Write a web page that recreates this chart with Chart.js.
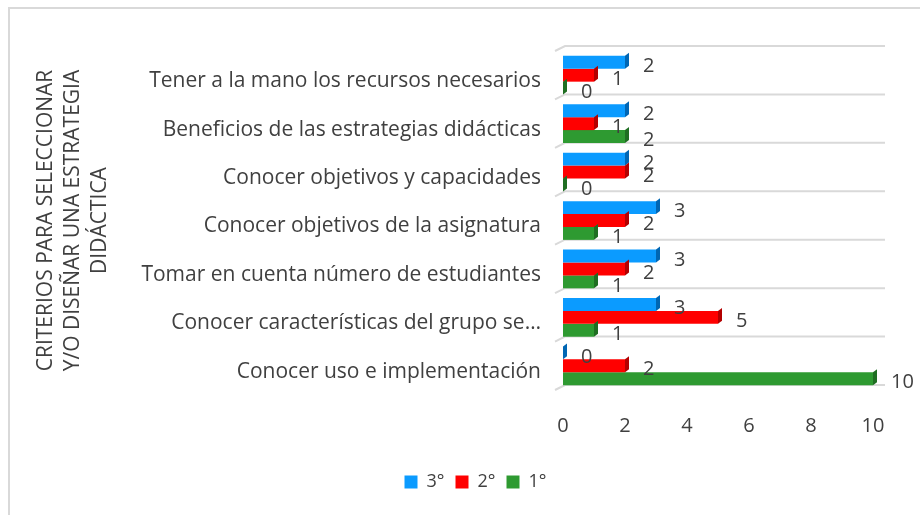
<!DOCTYPE html>
<html>
<head>
<meta charset="utf-8">
<script src="https://cdn.jsdelivr.net/npm/chart.js@4"></script>
<style>
  body { margin: 0; background: #fff; }
  #frame { position: absolute; left: 8px; top: 7px; width: 920px; height: 515px;
           border-left: 2px solid #d9d9d9; border-top: 2px solid #d9d9d9; }
  #wrap { position: absolute; left: 0; top: 0; width: 920px; height: 515px; }
</style>
</head>
<body>
<div id="frame"></div>
<div id="wrap"><canvas id="myChart"></canvas></div>
<script>
// data
const categories = [
  "Tener a la mano los recursos necesarios",
  "Beneficios de las estrategias didácticas",
  "Conocer objetivos y capacidades",
  "Conocer objetivos de la asignatura",
  "Tomar en cuenta número de estudiantes",
  "Conocer características del grupo se…",
  "Conocer uso e implementación",
];
const tercero = [2, 2, 2, 3, 3, 3, 0];
const segundo = [1, 1, 2, 2, 2, 5, 2];
const primero = [0, 2, 0, 1, 1, 1, 10];
const xTicks = [0, 2, 4, 6, 8, 10];

const textColor = "#404040";
const font = "'Open Sans', sans-serif";

// floor lines between categories, drawn a bit higher than the bars (3d look)
const floorLines = {
  id: "floorLines",
  beforeDatasetsDraw(chart) {
    const ctx = chart.ctx;
    const y = chart.scales.y;
    const left = chart.chartArea.left;
    const right = chart.chartArea.right + 12;
    ctx.save();
    ctx.strokeStyle = "#d9d9d9";
    ctx.lineWidth = 2;
    for (let i = 0; i <= categories.length; i++) {
      const py = y.getPixelForValue(i - 0.5) - 5;
      ctx.beginPath();
      ctx.moveTo(left - 8, py + 5);
      ctx.lineTo(left + 2, py);
      ctx.lineTo(right, py);
      ctx.stroke();
    }
    ctx.restore();
  },
};

// darker side face for the 3d look
const sideColors = ["#0066b3", "#b30000", "#1f6e22"];
const bar3d = {
  id: "bar3d",
  afterDatasetsDraw(chart) {
    const ctx = chart.ctx;
    ctx.save();
    chart.data.datasets.forEach((ds, i) => {
      chart.getDatasetMeta(i).data.forEach((el) => {
        const top = el.y - el.height / 2;
        const bottom = el.y + el.height / 2;
        ctx.fillStyle = sideColors[i];
        ctx.beginPath();
        ctx.moveTo(el.x, top);
        ctx.lineTo(el.x + 4, top - 3);
        ctx.lineTo(el.x + 4, bottom - 3);
        ctx.lineTo(el.x, bottom);
        ctx.closePath();
        ctx.fill();
      });
    });
    ctx.restore();
  },
};

// value labels next to the bars
const valueLabels = {
  id: "valueLabels",
  afterDatasetsDraw(chart) {
    const ctx = chart.ctx;
    ctx.save();
    ctx.font = "20px " + font;
    ctx.fillStyle = textColor;
    ctx.textAlign = "left";
    ctx.textBaseline = "middle";
    chart.data.datasets.forEach((ds, i) => {
      chart.getDatasetMeta(i).data.forEach((el, j) => {
        ctx.fillText(ds.data[j], el.x + 18, el.y + 4);
      });
    });
    ctx.restore();
  },
};

// legend sits a little right of the canvas centre in the original
const legendShift = {
  id: "legendShift",
  afterLayout(chart) {
    chart.legend.left += 25;
    chart.legend.right += 25;
  },
};

const data = {
  labels: categories,
  datasets: [
    { label: "3°", data: tercero, backgroundColor: "#0b9bff" },
    { label: "2°", data: segundo, backgroundColor: "#ff0000" },
    { label: "1°", data: primero, backgroundColor: "#2e9a31" },
  ],
};

const config = {
  type: "bar",
  data: data,
  options: {
    indexAxis: "y",
    responsive: true,
    maintainAspectRatio: false,
    animation: false,
    categoryPercentage: 0.8,
    barPercentage: 1,
    layout: { padding: { left: 28, right: 47, top: 51, bottom: 14 } },
    scales: {
      x: {
        min: 0,
        max: 10,
        afterBuildTicks: (s) => { s.ticks = xTicks.map((v) => ({ value: v })); },
        grid: { display: false, drawTicks: false },
        border: { display: false },
        ticks: { color: textColor, font: { family: font, size: 20 }, padding: 24 },
      },
      y: {
        afterFit: (s) => { s.width = 535; },
        grid: { display: false, drawTicks: false },
        border: { display: false },
        ticks: { color: textColor, font: { family: font, size: 21 }, padding: 22, labelOffset: 6 },
        title: {
          display: true,
          text: ["CRITERIOS PARA SELECCIONAR", "Y/O DISEÑAR UNA ESTRATEGIA", "DIDÁCTICA"],
          color: textColor,
          font: { family: font, size: 21, lineHeight: 1.3 },
          padding: { top: 4, bottom: 4 },
        },
      },
    },
    plugins: {
      legend: {
        position: "bottom",
        labels: {
          color: textColor,
          font: { family: font, size: 18 },
          boxWidth: 13,
          boxHeight: 13,
          padding: 11,
        },
      },
      tooltip: { enabled: false },
    },
  },
  plugins: [floorLines, bar3d, valueLabels, legendShift],
};

const myChart = new Chart(document.getElementById("myChart"), config);
</script>
</body>
</html>
